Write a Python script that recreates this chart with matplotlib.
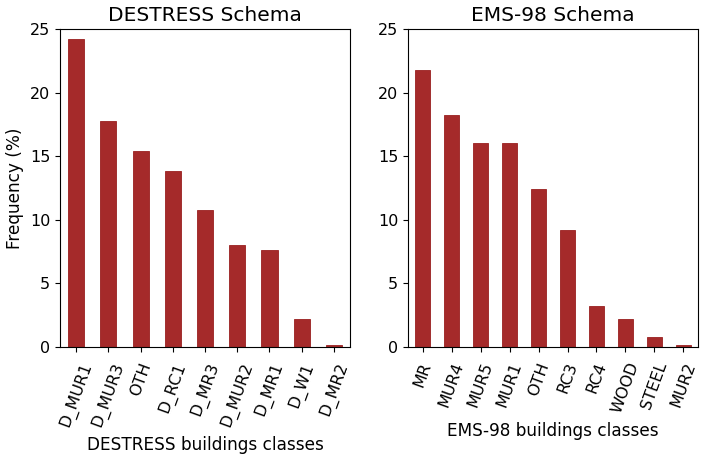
import matplotlib
matplotlib.use("Agg")
import matplotlib.pyplot as plt
import numpy as np

# DESTRESS schema
destress_classes = ["D_MUR1", "D_MUR3", "OTH", "D_RC1", "D_MR3", "D_MUR2", "D_MR1", "D_W1", "D_MR2"]
destress_freq = [24.2, 17.8, 15.4, 13.8, 10.8, 8.0, 7.6, 2.2, 0.15]

# EMS-98 schema
ems_classes = ["MR", "MUR4", "MUR5", "MUR1", "OTH", "RC3", "RC4", "WOOD", "STEEL", "MUR2"]
ems_freq = [21.8, 18.2, 16.0, 16.0, 12.4, 9.2, 3.2, 2.2, 0.8, 0.18]

fig = plt.figure(figsize=(7.02, 4.58), dpi=100)
ax1 = fig.add_axes([0.0855, 0.2424, 0.4131, 0.6943])
ax2 = fig.add_axes([0.5812, 0.2424, 0.4131, 0.6943])

for ax, cls, freq, title, xlab in [
    (ax1, destress_classes, destress_freq, "DESTRESS Schema", "DESTRESS buildings classes"),
    (ax2, ems_classes, ems_freq, "EMS-98 Schema", "EMS-98 buildings classes"),
]:
    x = np.arange(len(cls))
    ax.bar(x, freq, width=0.5, color="#a52a2a", edgecolor="#9a1f1f", linewidth=0.6)
    ax.set_xlim(-0.5, len(cls) - 0.5)
    ax.set_ylim(0, 25)
    ax.set_yticks([0, 5, 10, 15, 20, 25])
    ax.set_xticks(x)
    ax.set_xticklabels(cls, rotation=70, ha="center")
    ax.tick_params(labelsize=11.5)
    ax.tick_params(axis="x", pad=6)
    ax.set_title(title, fontsize=14.5)
    ax.set_xlabel(xlab, fontsize=12.2, labelpad=5)

ax1.set_ylabel("Frequency (%)", fontsize=12.2)

fig.savefig("out.png", dpi=100)
